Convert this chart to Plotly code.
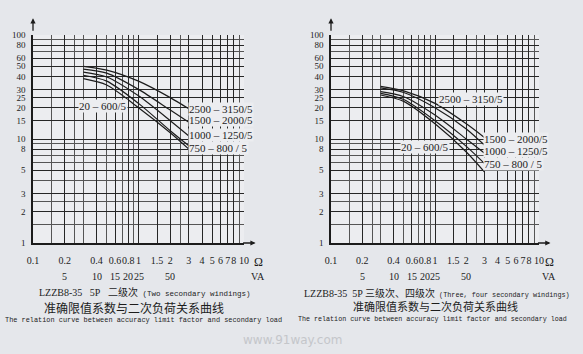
import math
import plotly.graph_objects as go

# ---------------- data ----------------
load_ohm = [0.3, 0.5, 1, 2, 3]

# Two secondary windings (left chart)
L_2500_3150 = [50, 46, 36, 25, 19.5]
L_1500_2000 = [47, 43, 30, 19, 14.5]
L_1000_1250 = [44, 39.5, 26, 15, 10.7]
L_750_800 = [41, 36, 22, 12, 8.6]
L_20_600 = [38, 33, 20, 11.5, 8.0]

# Three / four secondary windings (right chart)
R_2500_3150 = [32, 29, 22, 14, 10.3]
R_1500_2000 = [31, 28, 20, 12.5, 8.7]
R_1000_1250 = [28.5, 25.5, 17, 10, 7.3]
R_750_800 = [27.5, 24, 15, 8.5, 5.8]
R_20_600 = [26.5, 23, 14, 7.5, 4.8]

x_tick_vals = [0.1, 0.2, 0.4, 0.6, 0.8, 1, 1.5, 2, 3, 4, 5, 6, 7, 8, 10]
x_tick_text = ["0.1", "0.2", "0.4", "0.6", "0.8", "1", "1.5", "2", "3", "4", "5", "6", "7", "8", "10"]
x_minor_vals = [0.15, 0.25, 0.3, 0.5, 0.7, 0.9, 2.5, 9]
va_vals = [5, 10, 15, 20, 25, 50]          # VA = 25 * ohm
y_tick_vals = [1, 2, 3, 5, 8, 10, 15, 20, 25, 30, 40, 50, 60, 80, 100]
y_minor_vals = [1.5, 2.5, 4, 6, 7, 9, 70, 90]

labels = ["2500 – 3150/5", "1500 – 2000/5", "1000 – 1250/5", "750 – 800 / 5", "20 – 600/5"]
left_series = [L_2500_3150, L_1500_2000, L_1000_1250, L_750_800, L_20_600]
right_series = [R_2500_3150, R_1500_2000, R_1000_1250, R_750_800, R_20_600]

# label anchor positions (ohm, factor)
left_label_pos = [(2.95, 19.3), (2.95, 15.2), (2.95, 10.9), (2.95, 8.2), (0.8, 20.6)]
left_label_anchor = ["left", "left", "left", "left", "right"]
right_label_pos = [(1.07, 24), (2.9, 10), (2.9, 7.7), (2.9, 5.8), (1.39, 8.4)]
right_label_anchor = ["left", "left", "left", "left", "right"]

# ---------------- style ----------------
W, H = 583, 354
PAPER = "#e5e7eb"
PLOT = "#ecedf0"
INK = "#1c1c1c"
NUM_FONT = dict(family="Liberation Serif", size=10, color=INK)
Y_FONT = dict(family="Liberation Serif", size=9, color=INK)

def px_x(p):
    return p / W

def px_y(p):
    return 1 - p / H

fig = go.Figure()

for series, xa, ya in [(left_series, "x", "y"), (right_series, "x2", "y2")]:
    for vals, name in zip(series, labels):
        fig.add_trace(go.Scatter(
            x=load_ohm, y=vals, mode="lines", name=name,
            line=dict(color=INK, width=1.2, shape="spline", smoothing=0.8),
            xaxis=xa, yaxis=ya, showlegend=False, hoverinfo="skip"))

def xaxis_cfg(dom, anchor):
    return dict(
        type="log", range=[-1, 1], domain=dom, anchor=anchor,
        tickmode="array", tickvals=x_tick_vals, ticktext=x_tick_text,
        tickfont=NUM_FONT, ticks="", ticklabelstandoff=7, tickangle=0,
        automargin=False,
        showgrid=True, gridcolor="#262626", gridwidth=1.2,
        minor=dict(tickmode="array", tickvals=x_minor_vals, showgrid=True,
                   gridcolor="#555555", gridwidth=0.8, ticks=""),
        showline=True, linecolor=INK, linewidth=1.6, zeroline=False,
    )

def yaxis_cfg(dom, anchor):
    return dict(
        type="log", range=[0, 2], domain=dom, anchor=anchor,
        tickmode="array", tickvals=y_tick_vals, ticktext=[str(v) for v in y_tick_vals],
        tickfont=Y_FONT, ticks="", ticklabelstandoff=4, automargin=False,
        showgrid=True, gridcolor="#262626", gridwidth=1.2,
        minor=dict(tickmode="array", tickvals=y_minor_vals, showgrid=True,
                   gridcolor="#555555", gridwidth=0.8, ticks=""),
        showline=True, linecolor=INK, linewidth=1.6, zeroline=False,
    )

ydom = [px_y(243), px_y(35)]
fig.update_layout(
    width=W, height=H,
    margin=dict(l=0, r=0, t=0, b=0, autoexpand=False),
    paper_bgcolor=PAPER, plot_bgcolor=PLOT,
    xaxis=xaxis_cfg([px_x(33), px_x(244)], "y"),
    yaxis=yaxis_cfg(ydom, "x"),
    xaxis2=xaxis_cfg([px_x(331), px_x(539)], "y2"),
    yaxis2=yaxis_cfg(ydom, "x2"),
)

ann = []
curve_font = dict(family="Liberation Serif", size=11, color=INK)
for (pos, anc), xr, yr in [((left_label_pos, left_label_anchor), "x", "y"),
                           ((right_label_pos, right_label_anchor), "x2", "y2")]:
    for (xv, yv), a, t in zip(pos, anc, labels):
        ann.append(dict(x=math.log10(xv), y=math.log10(yv), xref=xr, yref=yr,
                        text=t, showarrow=False, xanchor=a, yanchor="middle",
                        font=curve_font, bgcolor=PLOT, borderpad=0))

# VA second row + unit labels
for xr, x_unit in [("x", 258), ("x2", 549)]:
    for v in va_vals:
        ann.append(dict(x=math.log10(v / 25.0), y=px_y(276), xref=xr, yref="paper",
                        text=str(v), showarrow=False, font=NUM_FONT,
                        xanchor="center", yanchor="middle"))
    ann.append(dict(x=px_x(x_unit), y=px_y(262), xref="paper", yref="paper", text="Ω",
                    showarrow=False, font=dict(family="Liberation Serif", size=12, color=INK),
                    xanchor="center", yanchor="middle"))
    ann.append(dict(x=px_x(x_unit), y=px_y(276), xref="paper", yref="paper", text="VA",
                    showarrow=False, font=dict(family="Liberation Serif", size=10, color=INK),
                    xanchor="center", yanchor="middle"))

# axis arrows
for xr, yr in [("x domain", "y domain"), ("x2 domain", "y2 domain")]:
    ann.append(dict(x=0, y=1.08, xref=xr, yref=yr, ax=0, ay=14, axref="pixel", ayref="pixel",
                    showarrow=True, arrowhead=2, arrowsize=0.8, arrowwidth=1.3, arrowcolor=INK, text=""))
    ann.append(dict(x=1.055, y=0, xref=xr, yref=yr, ax=-14, ay=0, axref="pixel", ayref="pixel",
                    showarrow=True, arrowhead=2, arrowsize=0.8, arrowwidth=1.3, arrowcolor=INK, text=""))

# titles
cjk = "Noto Sans CJK SC"
def title(xp, yp, text, font):
    ann.append(dict(x=px_x(xp), y=px_y(yp), xref="paper", yref="paper", showarrow=False,
                    xanchor="center", yanchor="middle", text=text, font=font))

title(144, 292, "LZZB8-35&nbsp;&nbsp;&nbsp;5P&nbsp;&nbsp;&nbsp;二级次"
      "<span style='font-size:7.5px;font-family:Liberation Mono'> (Two secondary windings)</span>",
      dict(family=f"Liberation Serif, {cjk}", size=10, color=INK))
title(134, 307, "准确限值系数与二次负荷关系曲线", dict(family=cjk, size=12, color=INK))
title(143, 320, "The relation curve between accuracy limit factor and secondary load",
      dict(family="Liberation Mono", size=6.9, color=INK))

title(437, 293, "LZZB8-35&nbsp;&nbsp;5P 三级次、四级次"
      "<span style='font-size:6.8px;font-family:Liberation Mono'> (Three, four secondary windings)</span>",
      dict(family=f"Liberation Serif, {cjk}", size=10, color=INK))
title(435, 306, "准确限值系数与二次负荷关系曲线", dict(family=cjk, size=11, color=INK))
title(432, 319, "The relation curve between accuracy limit factor and secondary load",
      dict(family="Liberation Mono", size=6.7, color=INK))

# watermark
title(292, 340, "www.91way.com", dict(family="DejaVu Sans", size=12, color="#c4c6ca"))

fig.update_layout(annotations=ann)
fig.write_html("out.html")
